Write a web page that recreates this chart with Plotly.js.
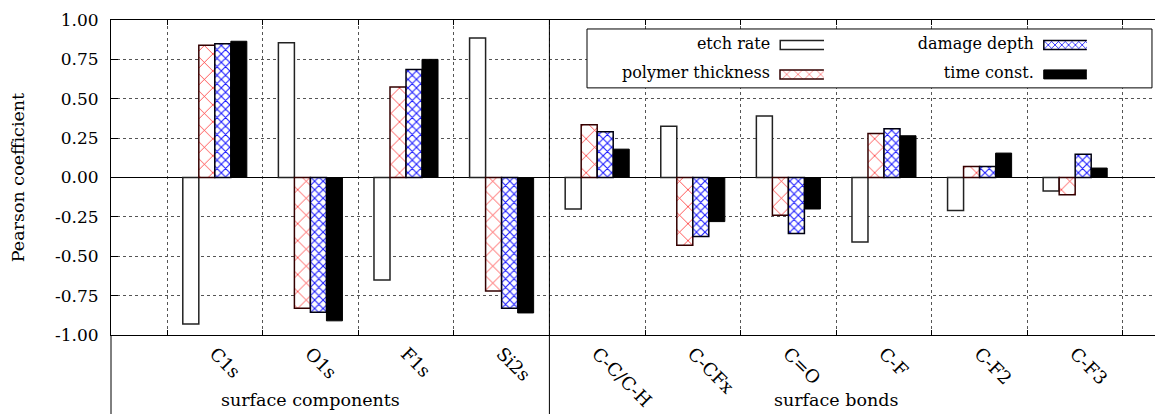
<!DOCTYPE html>
<html><head><meta charset="utf-8">
<script src="https://cdn.plot.ly/plotly-3.0.1.min.js"></script>
<style>html,body{margin:0;padding:0;overflow:hidden;background:#fff}#chart{width:1185px;height:414px}</style>
</head><body><div id="chart"></div>
<script>
const componentCats = ['C1s','O1s','F1s','Si2s'];
const bondCats = ['C-C/C-H','C-CFx','C=O','C-F','C-F2','C-F3'];
const groupNames = ['surface components','surface bonds'];
const seriesNames = ['etch rate','polymer thickness','damage depth','time const.'];
const etchRate         = [-0.93, 0.855,-0.65, 0.885,-0.20, 0.325, 0.39,-0.41, -0.21,-0.085];
const polymerThickness = [ 0.84,-0.83,  0.575,-0.72, 0.335,-0.43,-0.24, 0.28,  0.07,-0.11];
const damageDepth      = [ 0.85,-0.855, 0.685,-0.83, 0.29,-0.375,-0.355,0.31,  0.07, 0.148];
const timeConst        = [ 0.865,-0.91, 0.75, -0.86, 0.18,-0.28,-0.20, 0.265, 0.155,0.06];
const yTickVals = [-1,-0.75,-0.5,-0.25,0,0.25,0.5,0.75,1];
const yTickText = ['-1.00','-0.75','-0.50','-0.25','0.00','0.25','0.50','0.75','1.00'];

const categories = componentCats.concat(bondCats);
const xIdx = categories.map((c,i)=>i);
const bounds = categories.map((c,i)=>i-0.5).concat([categories.length-0.5]);
const sepX = componentCats.length-0.5;
const F = '"DejaVu Serif", serif';
const font = {family:F, size:16, color:'#000'};
const bigFont = {family:F, size:17.5, color:'#000'};
const tickFont = {family:F, size:17, color:'#000'};
const xTickFont = {family:F, size:18, color:'#000'};

const seriesVals = [etchRate, polymerThickness, damageDepth, timeConst];
const markers = [
  {color:'#fff', line:{color:'#222', width:1.5}},
  {color:'#fff', line:{color:'#300', width:1.5}, pattern:{shape:'x', fgcolor:'#ff2020', bgcolor:'#fff', size:12, solidity:0.12, fillmode:'replace'}},
  {color:'#fff', line:{color:'#001', width:1.5}, pattern:{shape:'x', fgcolor:'#1a1aff', bgcolor:'#fff', size:6, solidity:0.32, fillmode:'replace'}},
  {color:'#000', line:{color:'#000', width:1}}
];
const legendIds = ['legend','legend2','legend3','legend4'];
const traces = seriesVals.map((vals,k)=>({
  type:'bar', x:xIdx, y:vals, name:'', marker:markers[k], legend:legendIds[k],
  customdata:categories, hovertemplate:seriesNames[k]+'<br>%{customdata}: %{y:.2f}<extra></extra>'
}));

// legend anchors (paper coords)
const legPos = [[0.6675,0.9205],[0.6675,0.827],[0.9137,0.9205],[0.9137,0.827]];
const layout = {
  width:1185, height:414, margin:{l:111, r:6, t:20, b:79},
  barmode:'group', bargap:0.33, bargroupgap:0,
  font:font, plot_bgcolor:'#fff', paper_bgcolor:'#fff', showlegend:true,
  xaxis:{range:[-1.086,10.086], tickmode:'array', tickvals:xIdx, ticktext:categories, tickangle:45,
    ticks:'', showgrid:false, showline:true, linecolor:'#000', linewidth:1, mirror:'ticks', zeroline:false,
    tickfont:xTickFont,
    minor:{tickmode:'array', tickvals:bounds, ticks:'inside', ticklen:5, tickcolor:'#000',
      showgrid:true, gridcolor:'#555', griddash:'dot', gridwidth:1}},
  yaxis:{range:[-1,1], tickmode:'array', tickvals:yTickVals, ticktext:yTickText, ticks:'inside', ticklen:7,
    tickcolor:'#000', showgrid:true, gridcolor:'#555', griddash:'dot', gridwidth:1, showline:true, linecolor:'#000',
    mirror:'ticks', zeroline:true, zerolinecolor:'#000', zerolinewidth:1, ticklabelstandoff:8,
    tickfont:tickFont,
    title:{text:'Pearson coefficient', font:bigFont, standoff:25}},
  shapes:[
    {type:'rect', xref:'paper', yref:'paper', x0:0.4457, x1:0.9747, y0:0.7845, y1:0.9715,
      fillcolor:'#fff', line:{color:'#000', width:1}, layer:'above'},
    {type:'line', xref:'paper', yref:'paper', x0:0, x1:0, y0:-0.3, y1:0, line:{color:'#000', width:1}},
    {type:'line', xref:'x', yref:'paper', x0:sepX, x1:sepX, y0:-0.3, y1:1, line:{color:'#000', width:1}}
  ],
  annotations:[
    {text:groupNames[0], xref:'x', yref:'paper', x:1, y:-0.206, showarrow:false, font:bigFont, yanchor:'middle'},
    {text:groupNames[1], xref:'x', yref:'paper', x:(componentCats.length + categories.length-1)/2, y:-0.206, showarrow:false, font:bigFont, yanchor:'middle'}
  ]
};
legendIds.forEach((id,k)=>{
  layout[id] = {x:legPos[k][0], y:legPos[k][1], xanchor:'right', yanchor:'middle', bgcolor:'rgba(0,0,0,0)',
    borderwidth:0, font:font, title:{text:seriesNames[k], side:'left', font:font}, itemclick:false, itemdoubleclick:false};
});

Plotly.newPlot('chart', traces, layout, {displayModeBar:false}).then(gd=>{
  gd.querySelectorAll('.legendpoints path').forEach(p=>p.setAttribute('d','M-18,-4.5H33V4.5H-18Z'));
});
</script>
</body></html>
